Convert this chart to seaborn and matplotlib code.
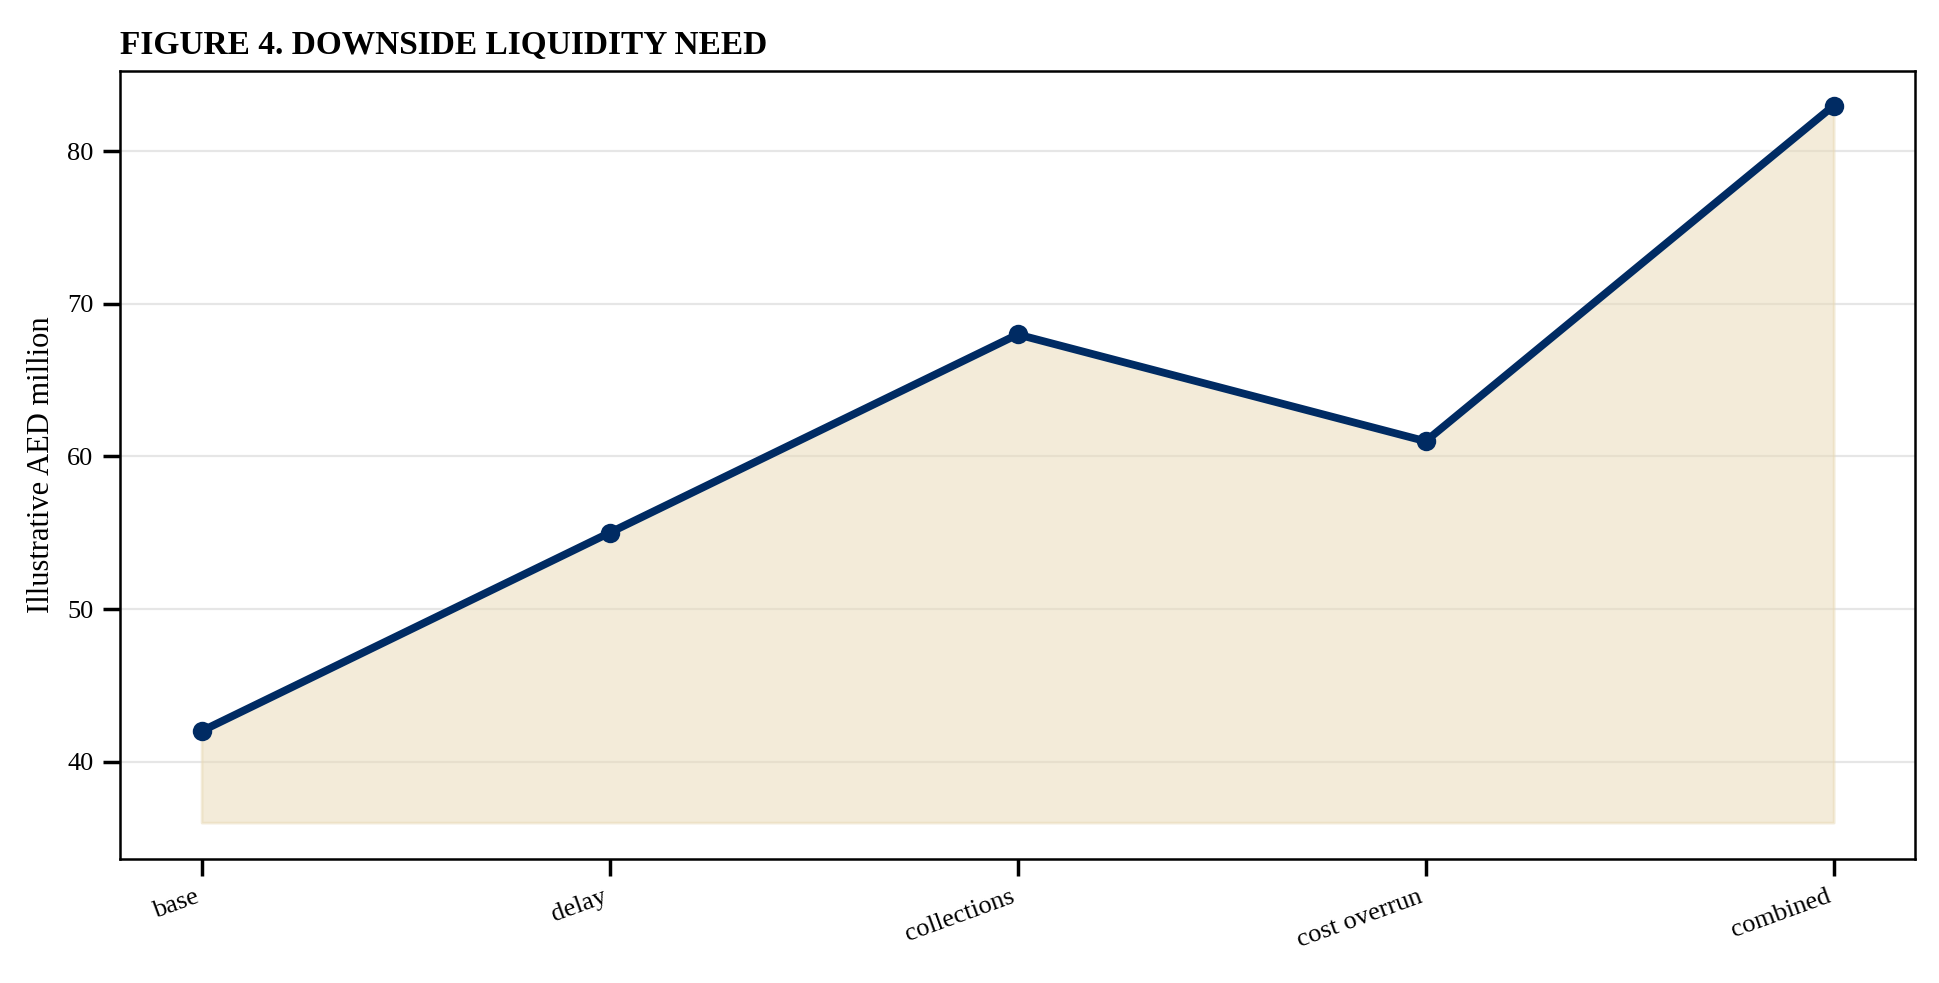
import matplotlib
matplotlib.use("Agg")
import matplotlib.pyplot as plt
import seaborn as sns
import pandas as pd

scenarios = ["base", "delay", "collections", "cost overrun", "combined"]
need = [42, 55, 68, 61, 83]
fill_floor = 36

sns.set_theme(style="ticks")
plt.rcParams['font.family'] = ['Liberation Serif', 'DejaVu Serif']
plt.rcParams['text.color'] = 'black'
plt.rcParams['axes.labelcolor'] = 'black'
plt.rcParams['xtick.color'] = 'black'
plt.rcParams['ytick.color'] = 'black'

df = pd.DataFrame({"scenario": scenarios, "need": need})
fig, ax = plt.subplots(figsize=(9.7, 4.915), dpi=200)
x = list(range(len(scenarios)))
ax.fill_between(x, fill_floor, need, color="#e8d9b5", alpha=0.5, zorder=1)
sns.lineplot(data=df, x="scenario", y="need", ax=ax, color="#002b63", linewidth=2.8,
             marker="o", markersize=7, markeredgewidth=0, sort=False, zorder=3)
ax.set_ylim(33.6, 85.3)
ax.set_xlim(-0.2, 4.2)
ax.yaxis.grid(True, color="#e6e6e6", linewidth=0.8)
ax.set_axisbelow(True)
ax.set_xlabel("")
ax.set_ylabel("Illustrative AED million", fontsize=11)
ax.set_title("FIGURE 4. DOWNSIDE LIQUIDITY NEED", loc="left", fontweight="bold", fontsize=12)
ax.set_xticks(x)
ax.set_xticklabels(scenarios, rotation=20, ha="right", fontsize=9.5)
ax.tick_params(axis="y", labelsize=9.5)
for s in ax.spines.values():
    s.set_color("black")
    s.set_linewidth(0.9)
W, H = 1568, 794
fig.subplots_adjust(left=97/W, right=1548/W, top=1-57/H, bottom=1-694/H)
fig.savefig("out.png", dpi=200)
